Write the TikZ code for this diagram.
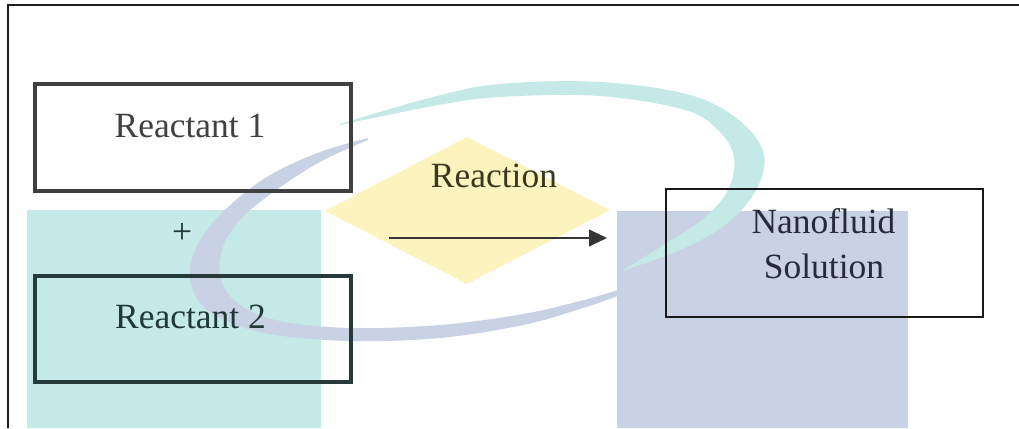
\documentclass[tikz,border=0pt]{standalone}
\usepackage{fontspec}
\setmainfont{Liberation Serif}
\usetikzlibrary{arrows.meta}
\definecolor{wmteal}{HTML}{C4E9E7}
\definecolor{wmlav}{HTML}{C9D1E4}
\definecolor{wmyel}{HTML}{FCF3BE}
\definecolor{ink}{HTML}{404040}
\definecolor{inkteal}{HTML}{213838}
\definecolor{inkyel}{HTML}{3A3920}
\definecolor{inklav}{HTML}{252B3C}
\definecolor{framec}{HTML}{1E1E1E}

\begin{document}
\begin{tikzpicture}[x=0.75pt,y=-0.75pt,
  box/.style={draw=#1,line width=2.4pt,rectangle,inner sep=0pt,fill=none},
  lbl/.style={text=#1,inner sep=0pt,anchor=base,font=\fontsize{26.6}{33.75}\selectfont},
  flow/.style={draw=ink!85!black,line width=1.5pt,-{Triangle[length=13.5pt,width=12.5pt]}},
  frame/.style={draw=framec,line width=1.5pt}]
  \useasboundingbox (0,0) rectangle (1019,428);
  \fill[white] (0,0) rectangle (1019,428);

  % background logo: two blocks, a diamond and a swoosh
  \fill[wmteal] (27,210) rectangle (321,428);
  \fill[wmlav] (617,211) rectangle (908,428);
  \fill[wmyel] (325,211) -- (467,137) -- (610,210) -- (467,284) -- cycle;
  \fill[wmteal] plot[smooth,tension=0.6] coordinates {(340,124) (433,97) (500,84) (600,82) (690,95) (740,121) (764,155) (755,192) (725,225) (680,250) (622,271)}
     -- plot[smooth,tension=0.6] coordinates {(622,271) (665,244) (703,219) (728,190) (734,157) (718,130) (685,110) (600,96) (500,97) (433,106) (340,125)} -- cycle;
  \fill[wmlav] plot[smooth,tension=0.6] coordinates {(368,138) (320,152) (272,174) (236,200) (207,230) (191,263) (195,295) (220,318) (270,334) (350,341) (440,338) (523,325) (580,309) (618,296)}
     -- plot[smooth,tension=0.6] coordinates {(618,290) (580,301) (523,314) (440,325) (350,328) (280,321) (240,305) (221,280) (222,250) (238,222) (268,196) (318,163) (368,140)} -- cycle;

  % page frame
  \coordinate (fb) at (8,428);
  \coordinate (fc) at (8,5);
  \coordinate (fr) at (1019,5);
  \draw[frame] (fb) -- (fc) -- (fr);

  % boxes
  \node[box=ink,minimum width=237pt,minimum height=80.25pt] (r1) at (193,137.5) {};
  \node[box=inkteal!80!ink,minimum width=237pt,minimum height=79.5pt] (r2) at (193,329) {};
  \node[box=black!90,line width=2pt,minimum width=237.75pt,minimum height=96pt] (nf) at (824.5,253) {};

  % labels
  \node[lbl=ink] (t1) at (190,137) {Reactant 1};
  \node[lbl=inkteal] (plus) at (182,243) {+};
  \node[lbl=inkteal] (t2) at (190.5,328) {Reactant 2};
  \node[lbl=inkyel] (rx) at (494,187) {Reaction};
  \node[lbl=inklav] (t3a) at (823.5,233) {Nanofluid};
  \node[lbl=inklav] (t3b) at (824,278) {Solution};

  % reaction arrow
  \coordinate (a0) at (389,238);
  \coordinate (a1) at (607,238);
  \draw[flow] (a0) -- (a1);
\end{tikzpicture}
\end{document}
